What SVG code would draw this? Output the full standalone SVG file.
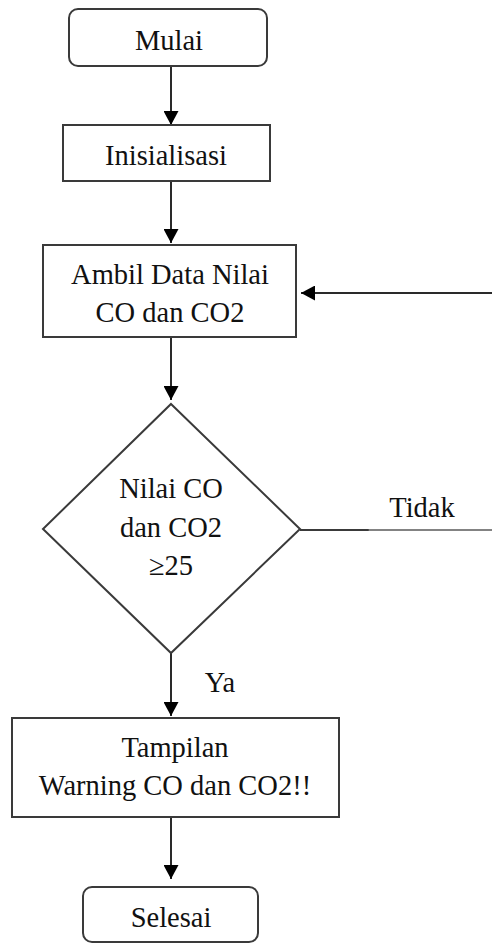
<svg xmlns="http://www.w3.org/2000/svg" width="492" height="943" viewBox="0 0 492 943">
  <style>
    .box { fill: #ffffff; stroke: #3a3a3a; stroke-width: 2; }
    .line { fill: none; stroke: #2a2a2a; stroke-width: 2; }
    .label { font-family: "Liberation Serif", "Times New Roman", serif; font-size: 28.5px; fill: #111111; text-anchor: middle; }
  </style>
  <defs>
    <marker id="arrow" viewBox="0 0 14 15" refX="14" refY="7.5" markerWidth="14" markerHeight="15" markerUnits="userSpaceOnUse" orient="auto">
      <path d="M0,0 L14,7.5 L0,15 Z" fill="#000000"/>
    </marker>
  </defs>
  <rect width="492" height="943" fill="#ffffff"/>

  <!-- connectors -->
  <g id="connectors">
    <line class="line" x1="171" y1="66" x2="171" y2="125" marker-end="url(#arrow)"/>
    <line class="line" x1="171" y1="181" x2="171" y2="243" marker-end="url(#arrow)"/>
    <line class="line" x1="171" y1="337" x2="171" y2="400" marker-end="url(#arrow)"/>
    <line class="line" x1="171" y1="653" x2="171" y2="716" marker-end="url(#arrow)"/>
    <line class="line" x1="171" y1="817" x2="171" y2="879" marker-end="url(#arrow)"/>
    <!-- "Tidak" branch leaving the decision to the right -->
    <line x1="300" y1="530" x2="369" y2="530" stroke="#3a3a3a" stroke-width="2.2"/>
    <line x1="368" y1="530" x2="492" y2="530" stroke="#5a5a5a" stroke-width="1.4"/>
    <!-- loop back into the data acquisition step -->
    <line class="line" x1="492" y1="293" x2="301" y2="293" marker-end="url(#arrow)"/>
    <text class="label" x="422" y="517">Tidak</text>
    <text class="label" x="220" y="692">Ya</text>
  </g>

  <g id="mulai">
    <rect class="box" x="69" y="9" width="198" height="57" rx="9" ry="9"/>
    <text class="label" x="169" y="50">Mulai</text>
  </g>

  <g id="inisialisasi">
    <rect class="box" x="63" y="125" width="207" height="56"/>
    <text class="label" x="166" y="165">Inisialisasi</text>
  </g>

  <g id="ambil-data">
    <rect class="box" x="43" y="245" width="253" height="92"/>
    <text class="label" x="170" y="284">Ambil Data Nilai</text>
    <text class="label" x="170" y="322">CO dan CO2</text>
  </g>

  <g id="cek-nilai">
    <polygon class="box" points="171,404 300,529 171,653 43,529"/>
    <text class="label" x="171" y="498">Nilai CO</text>
    <text class="label" x="171" y="537">dan CO2</text>
    <text class="label" x="171" y="575">≥25</text>
  </g>

  <g id="tampilan-warning">
    <rect class="box" x="12" y="718" width="327" height="99"/>
    <text class="label" x="175" y="757">Tampilan</text>
    <text class="label" x="175" y="795">Warning CO dan CO2!!</text>
  </g>

  <g id="selesai">
    <rect class="box" x="83" y="887" width="175" height="55" rx="9" ry="9"/>
    <text class="label" x="171" y="927">Selesai</text>
  </g>
</svg>
